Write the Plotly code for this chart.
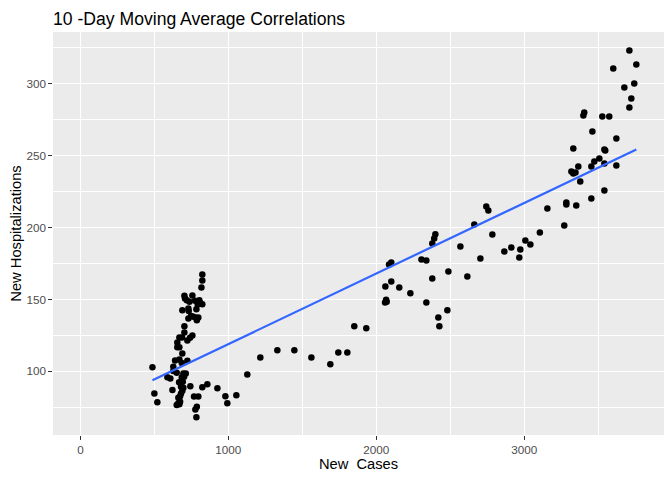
import numpy as np
import plotly.graph_objects as go

new_cases = [
    824, 824, 818, 703, 707, 719, 737, 757, 775, 804, 809, 824, 793, 689, 730, 732,
    784, 730, 748, 764, 782, 797, 787, 703, 703, 669, 687, 723, 741, 757, 655, 655,
    669, 689, 640, 669, 685, 723, 487, 628, 628, 651, 696, 712, 588, 608, 685, 701,
    667, 692, 1128, 680, 696, 743, 824, 858, 926, 622, 689, 680, 500, 674, 662, 768,
    797, 980, 1054, 520, 993, 674, 662, 651, 669, 787, 777, 784,
    1216, 1331, 1446, 1561, 1689, 1743, 1804, 1851, 1932, 2059, 2066, 2070, 2061, 2101,
    2086, 2101, 2155, 2230, 2305, 2338, 2338, 2378, 2378, 2391, 2399, 2419, 2426, 2480,
    2487, 2568, 2615, 2662, 2703, 2743, 2757, 2784, 2865, 2912, 2966, 2973, 3007, 3041,
    3105, 3156,
    3270, 3284, 3284, 3351, 3453, 3541, 3378, 3318, 3331, 3346, 3365, 3453, 3473, 3507,
    3541, 3622, 3541, 3547, 3331, 3622, 3460, 3399, 3405, 3527, 3574, 3710, 3723, 3676,
    3743, 3601, 3757, 3710,
]

new_hosp = [
    167.4, 163.2, 158.3, 152.5, 150.7, 149.5, 148.3, 152.8, 149.0, 149.5, 147.6, 146.7,
    146.5, 142.4, 143.7, 141.9, 143.1, 136.8, 138.4, 137.9, 137.2, 137.5, 135.6, 131.3,
    127.1, 123.6, 123.6, 121.5, 123.3, 125.0, 120.1, 116.7, 116.7, 112.5, 107.6, 108.2,
    105.8, 107.4, 102.8, 103.2, 100.2, 99.0, 98.6, 98.6, 96.0, 95.1, 95.8, 96.3,
    92.4, 92.8, 97.9, 89.3, 88.6, 89.6, 88.9, 91.0, 88.2, 87.0, 86.5, 84.7,
    84.7, 82.8, 81.7, 82.6, 82.6, 82.8, 83.5, 78.5, 77.8, 78.9, 77.8, 76.6,
    77.1, 75.4, 73.6, 68.1,
    109.7, 114.6, 114.6, 109.7, 104.9, 113.2, 113.2, 131.3, 129.9, 147.9, 149.7, 148.3,
    159.0, 162.5, 174.3, 175.7, 158.3, 154.2, 177.8, 177.1, 147.9, 164.6, 188.9, 192.4,
    195.2, 137.5, 131.3, 142.4, 169.4, 186.8, 166.0, 202.1, 178.5, 214.6, 211.8, 195.1,
    183.3, 186.1, 179.2, 184.7, 191.0, 188.2, 196.5, 213.2,
    201.4, 217.4, 216.0, 215.3, 220.1, 225.7, 231.9, 238.9, 237.5, 238.2, 242.4, 242.4,
    245.8, 247.9, 244.4, 243.0, 254.2, 253.5, 254.9, 261.8, 266.7, 277.8, 279.9, 277.1,
    277.1, 283.3, 289.6, 297.2, 300.0, 310.4, 313.2, 322.9,
]

title_text = "10 -Day Moving Average Correlations"
x_title = "New\u00a0 Cases"
y_title = "New Hospitalizations"
x_ticks = [0, 1000, 2000, 3000]
y_ticks = [100, 150, 200, 250, 300]

x = np.array(new_cases, dtype=float)
y = np.array(new_hosp, dtype=float)
slope, intercept = np.polyfit(x, y, 1)
fx = np.linspace(x.min(), x.max(), 80)
fy = slope * fx + intercept

fig = go.Figure()
fig.add_trace(go.Scatter(
    x=x, y=y, mode="markers",
    marker=dict(color="black", size=6.5, line=dict(width=0)),
    showlegend=False, hoverinfo="skip",
))
fig.add_trace(go.Scatter(
    x=fx, y=fy, mode="lines",
    line=dict(color="#3366FF", width=2.2),
    showlegend=False, hoverinfo="skip",
))

axis_common = dict(
    showgrid=True, gridcolor="white", gridwidth=1.1,
    zeroline=False, showline=False, automargin=False,
    ticks="outside", ticklen=3.7, tickwidth=1.07, tickcolor="#333333",
    tickfont=dict(family="Liberation Sans, Arial, sans-serif", size=11.7, color="#4D4D4D"),
    title_font=dict(family="Liberation Sans, Arial, sans-serif", size=14.7, color="black"),
)

# page body has an 8px margin, so the figure is sized/placed to compensate
W, H = 664, 472
fig.update_layout(
    width=W, height=H,
    margin=dict(l=45, r=8, t=24, b=45),
    paper_bgcolor="white", plot_bgcolor="#EBEBEB",
    font=dict(family="Liberation Sans, Arial, sans-serif"),
    title=dict(
        text=title_text, x=45 / W, xanchor="left", xref="container",
        y=1 - 10.5 / H, yanchor="middle", yref="container",
        font=dict(size=17.6, color="black"),
    ),
    xaxis=dict(
        range=[-185, 3944], tickvals=x_ticks, ticktext=[str(v) for v in x_ticks],
        title=dict(text=x_title, standoff=2),
        minor=dict(tickvals=[500, 1500, 2500, 3500], showgrid=True, gridcolor="white",
                   gridwidth=0.55, ticks=""),
        **axis_common,
    ),
    yaxis=dict(
        range=[55.8, 335.8], tickvals=y_ticks, ticktext=[str(v) for v in y_ticks],
        title=dict(text=y_title, standoff=4),
        minor=dict(tickvals=[75, 125, 175, 225, 275, 325], showgrid=True, gridcolor="white",
                   gridwidth=0.55, ticks=""),
        **axis_common,
    ),
)

fig.write_html("out.html")
